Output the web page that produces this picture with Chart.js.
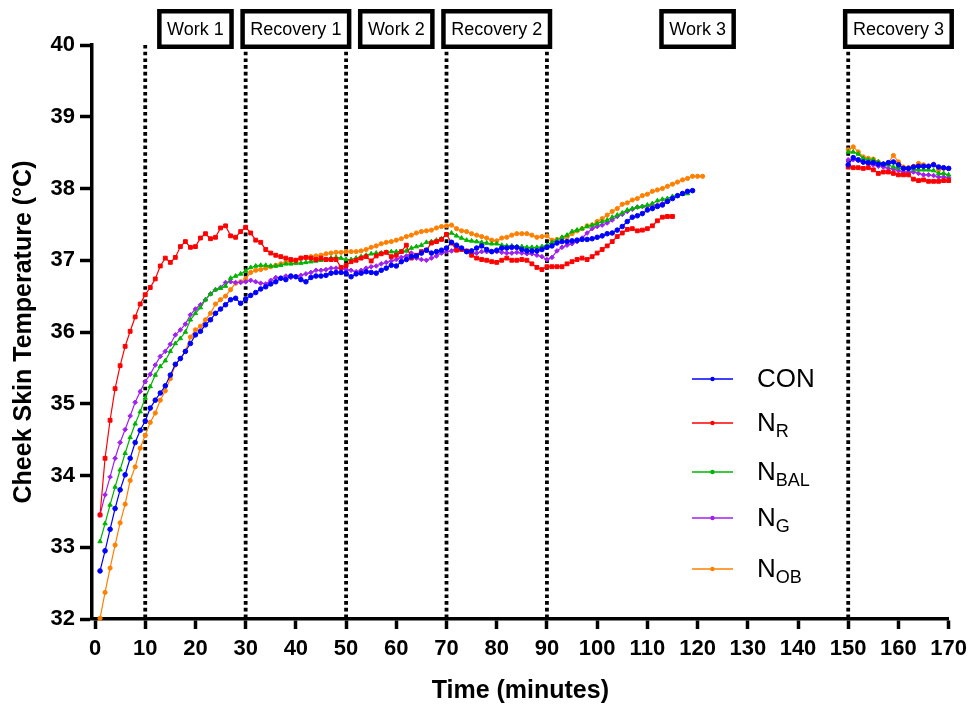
<!DOCTYPE html>
<html>
<head>
<meta charset="utf-8">
<script src="https://cdn.jsdelivr.net/npm/chart.js@4.4.0/dist/chart.umd.min.js"></script>
<style>
	html, body { margin: 0; padding: 0; background: #fff; }
</style>
</head>
<body>
<canvas id="grafico_temp" width="974" height="707"></canvas>
<script>
// minutes of the first block and of the last block
var minutos_1 = [1,2,3,4,5,6,7,8,9,10,11,12,13,14,15,16,17,18,19,20,21,22,23,24,25,26,27,28,29,30,
	31,32,33,34,35,36,37,38,39,40,41,42,43,44,45,46,47,48,49,50,51,52,53,54,55,56,57,58,59,60,
	61,62,63,64,65,66,67,68,69,70,71,72,73,74,75,76,77,78,79,80,81,82,83,84,85,86,87,88,89,90,
	91,92,93,94,95,96,97,98,99,100,101,102,103,104,105,106,107,108,109,110,111,112,113,114,115,116,117,118,119,120,121];
var minutos_2 = [150,151,152,153,154,155,156,157,158,159,160,161,162,163,164,165,166,167,168,169,170];

var con_1 = [32.67,32.95,33.25,33.54,33.80,34.01,34.24,34.46,34.63,34.76,34.94,35.05,35.15,35.25,35.40,35.55,35.63,35.73,35.84,35.96,
	36.01,36.10,36.17,36.26,36.32,36.38,36.45,36.47,36.40,36.46,36.51,36.55,36.60,36.63,36.67,36.70,36.75,36.73,36.78,36.77,
	36.73,36.70,36.76,36.78,36.78,36.79,36.82,36.83,36.83,36.82,36.77,36.81,36.82,36.84,36.83,36.82,36.86,36.89,36.93,36.92,
	36.98,37.01,37.05,37.06,37.10,37.14,37.10,37.12,37.14,37.17,37.25,37.21,37.17,37.12,37.13,37.17,37.20,37.15,37.12,37.14,
	37.17,37.17,37.18,37.18,37.15,37.13,37.13,37.13,37.15,37.18,37.20,37.24,37.26,37.26,37.27,37.28,37.29,37.29,37.30,37.32,
	37.34,37.37,37.38,37.42,37.47,37.54,37.60,37.62,37.65,37.70,37.72,37.75,37.77,37.82,37.86,37.90,37.93,37.96,37.97];
var con_2 = [38.33,38.43,38.40,38.37,38.36,38.36,38.34,38.34,38.36,38.37,38.33,38.28,38.28,38.30,38.31,38.31,38.31,38.33,38.30,38.29,38.28];

var nr_1 = [33.45,34.24,34.77,35.21,35.53,35.80,36.01,36.21,36.39,36.52,36.62,36.74,36.92,37.03,36.97,37.04,37.19,37.26,37.18,37.19,
	37.31,37.37,37.30,37.32,37.45,37.48,37.34,37.32,37.40,37.46,37.38,37.28,37.25,37.15,37.10,37.07,37.05,37.03,37.01,37.00,
	37.03,37.04,37.03,37.01,37.03,37.01,37.01,37.01,36.90,36.93,36.98,37.00,37.03,37.05,36.99,37.06,37.09,37.11,37.05,37.07,
	37.12,37.21,37.03,37.07,37.12,37.14,37.24,37.26,37.29,37.36,37.24,37.14,37.15,37.13,37.07,37.03,37.01,37.00,36.98,36.97,
	37.00,37.03,37.00,37.00,37.01,37.00,36.95,36.90,36.87,36.91,36.91,36.91,36.91,36.95,36.98,37.01,37.03,37.01,37.05,37.10,
	37.15,37.20,37.26,37.33,37.38,37.43,37.44,37.41,37.42,37.44,37.48,37.55,37.60,37.61,37.61];
var nr_2 = [38.30,38.29,38.29,38.28,38.29,38.26,38.21,38.23,38.23,38.21,38.19,38.19,38.19,38.13,38.11,38.12,38.10,38.10,38.10,38.11,38.11];

var nbal_1 = [33.08,33.33,33.59,33.84,34.08,34.31,34.53,34.72,34.89,35.08,35.24,35.40,35.52,35.60,35.73,35.84,35.91,36.00,36.17,36.26,
	36.34,36.45,36.53,36.59,36.61,36.64,36.75,36.78,36.81,36.85,36.90,36.92,36.93,36.93,36.92,36.92,36.93,36.95,36.95,36.96,
	36.96,36.97,36.98,36.99,37.00,37.01,37.03,37.04,37.03,37.01,37.01,37.03,37.05,37.07,37.09,37.10,37.10,37.11,37.12,37.12,
	37.12,37.13,37.17,37.19,37.21,37.25,37.26,37.28,37.30,37.36,37.38,37.34,37.31,37.28,37.27,37.26,37.25,37.24,37.23,37.23,
	37.21,37.20,37.20,37.19,37.19,37.18,37.18,37.18,37.19,37.21,37.25,37.28,37.32,37.35,37.40,37.42,37.44,37.47,37.49,37.51,
	37.54,37.56,37.60,37.63,37.66,37.70,37.72,37.74,37.75,37.77,37.79,37.83,37.85,37.86,37.89,37.90,37.92,37.93];
var nbal_2 = [38.51,38.51,38.48,38.42,38.40,38.40,38.37,38.34,38.33,38.30,38.29,38.28,38.28,38.27,38.26,38.26,38.26,38.25,38.21,38.21,38.19];

var ng_1 = [33.45,33.73,33.98,34.24,34.46,34.64,34.83,35.02,35.17,35.31,35.41,35.54,35.66,35.73,35.83,35.96,36.03,36.11,36.24,36.32,
	36.38,36.45,36.53,36.59,36.62,36.69,36.70,36.69,36.69,36.70,36.72,36.70,36.68,36.67,36.72,36.76,36.75,36.78,36.76,36.77,
	36.79,36.81,36.83,36.86,36.86,36.87,36.89,36.89,36.89,36.87,36.86,36.84,36.86,36.89,36.91,36.92,36.95,36.97,36.99,37.01,
	37.04,37.06,37.10,37.03,37.01,37.00,37.03,37.06,37.10,37.12,37.13,37.18,37.15,37.12,37.09,37.10,37.12,37.12,37.12,37.12,
	37.11,37.10,37.10,37.11,37.10,37.09,37.09,37.07,37.05,37.01,37.04,37.13,37.18,37.21,37.23,37.26,37.31,37.38,37.44,37.47,
	37.49,37.52,37.56,37.61,37.64,37.68,37.71,37.74,37.75,37.75,37.76,37.77,37.79,37.82];
var ng_2 = [38.40,38.40,38.39,38.36,38.34,38.33,38.31,38.30,38.28,38.27,38.25,38.23,38.23,38.23,38.21,38.19,38.19,38.18,38.16,38.16,38.15];

var nob_1 = [32.01,32.37,32.71,33.03,33.34,33.60,33.93,34.12,34.38,34.56,34.74,34.87,35.05,35.18,35.35,35.54,35.63,35.73,35.93,36.03,
	36.08,36.17,36.26,36.39,36.45,36.50,36.59,36.68,36.70,36.74,36.83,36.86,36.87,36.89,36.91,36.93,36.95,36.97,36.98,37.00,
	37.03,37.04,37.05,37.06,37.07,37.09,37.10,37.11,37.11,37.12,37.12,37.12,37.13,37.15,37.18,37.20,37.23,37.25,37.26,37.28,
	37.30,37.33,37.35,37.38,37.40,37.41,37.42,37.45,37.47,37.48,37.49,37.44,37.41,37.40,37.37,37.35,37.33,37.31,37.28,37.27,
	37.31,37.32,37.35,37.37,37.37,37.37,37.35,37.32,37.33,37.34,37.28,37.29,37.31,37.32,37.37,37.41,37.44,37.48,37.49,37.54,
	37.58,37.63,37.68,37.72,37.78,37.80,37.84,37.86,37.90,37.92,37.96,37.98,38.00,38.03,38.06,38.09,38.12,38.14,38.17,38.17,38.17];
var nob_2 = [38.54,38.58,38.51,38.44,38.42,38.41,38.37,38.33,38.36,38.46,38.37,38.30,38.29,38.31,38.35,38.33,38.31,38.34,38.26,38.28,38.28];

var ticks_x = [0,10,20,30,40,50,60,70,80,90,100,110,120,130,140,150,160,170];
var ticks_y = [32,33,34,35,36,37,38,39,40];

// phase limits (dotted lines) and the boxes on top
var linhas_fase = [10, 30, 50, 70, 90, 150];
var nomes_fase = ["Work 1", "Recovery 1", "Work 2", "Recovery 2", "Work 3", "Recovery 3"];
var centros_fase = [20, 40, 60, 80, 120, 160];

var fonte = "'Liberation Sans', Arial, sans-serif";

function montar_pontos(valores_1, valores_2) {
	var pontos = valores_1.map(function (v, i) {
		return { x: minutos_1[i], y: v };
	});
	pontos.push({ x: 135, y: null });
	valores_2.forEach(function (v, i) {
		pontos.push({ x: minutos_2[i], y: v });
	});
	return pontos;
}

var series = [
	{ nome: "CON", sub: "", cor: "#0000ff", forma: "circle", raio: 2.3, d1: con_1, d2: con_2 },
	{ nome: "N", sub: "R", cor: "#ff0000", forma: "rect", raio: 2.7, d1: nr_1, d2: nr_2 },
	{ nome: "N", sub: "BAL", cor: "#00b400", forma: "triangle", raio: 2.5, d1: nbal_1, d2: nbal_2 },
	{ nome: "N", sub: "G", cor: "#a020f0", forma: "rectRot", raio: 2.3, d1: ng_1, d2: ng_2 },
	{ nome: "N", sub: "OB", cor: "#ff8000", forma: "circle", raio: 2.1, d1: nob_1, d2: nob_2 }
];

var legenda_y = [379, 423, 472, 518, 569];

// dotted lines before the data, boxes and legend after
var plugin_linhas = {
	id: "linhas_fase",
	beforeDatasetsDraw: function (chart) {
		var ctx = chart.ctx;
		var area = chart.chartArea;
		var sx = chart.scales.x;
		ctx.save();
		ctx.strokeStyle = "#000";
		ctx.lineWidth = 3.8;
		ctx.setLineDash([3.6, 3.1]);
		linhas_fase.forEach(function (m) {
			var px = sx.getPixelForValue(m);
			ctx.beginPath();
			ctx.moveTo(px, area.top);
			ctx.lineTo(px, area.bottom);
			ctx.stroke();
		});
		ctx.restore();
	},
	afterDraw: function (chart) {
		var ctx = chart.ctx;
		var sx = chart.scales.x;
		ctx.save();
		ctx.font = "18px " + fonte;
		ctx.textAlign = "center";
		ctx.textBaseline = "middle";
		nomes_fase.forEach(function (nome, i) {
			var cx = sx.getPixelForValue(centros_fase[i]);
			var w = ctx.measureText(nome).width + 20;
			var x0 = cx - w / 2;
			ctx.fillStyle = "#fff";
			ctx.fillRect(x0, 9, w, 40);
			ctx.lineWidth = 4.5;
			ctx.strokeStyle = "#000";
			ctx.strokeRect(x0 + 2.25, 9 + 2.25, w - 4.5, 40 - 4.5);
			ctx.fillStyle = "#000";
			ctx.fillText(nome, cx, 30);
		});
		ctx.textAlign = "left";
		ctx.textBaseline = "alphabetic";
		series.forEach(function (s, i) {
			var y = legenda_y[i];
			ctx.strokeStyle = s.cor;
			ctx.lineWidth = 1.6;
			ctx.beginPath();
			ctx.moveTo(692, y);
			ctx.lineTo(733, y);
			ctx.stroke();
			ctx.fillStyle = s.cor;
			ctx.beginPath();
			ctx.arc(712.5, y, 2.2, 0, Math.PI * 2);
			ctx.fill();
			ctx.fillStyle = "#000";
			ctx.font = "26px " + fonte;
			ctx.fillText(s.nome, 757, y + 8);
			if (s.sub) {
				var wn = ctx.measureText(s.nome).width;
				ctx.font = "18px " + fonte;
				ctx.fillText(s.sub, 757 + wn, y + 14);
			}
		});
		ctx.restore();
	}
};

var fonte_ticks = { family: fonte, size: 22, weight: "bold" };
var fonte_titulo = { family: fonte, size: 25, weight: "bold" };

new Chart(document.getElementById("grafico_temp"), {
	type: "line",
	data: {
		datasets: series.map(function (s) {
			return {
				label: s.nome + s.sub,
				data: montar_pontos(s.d1, s.d2),
				borderColor: s.cor,
				backgroundColor: s.cor,
				borderWidth: 1.2,
				pointStyle: s.forma,
				pointRadius: s.raio,
				pointBorderWidth: 1,
				pointBackgroundColor: s.cor,
				pointBorderColor: s.cor,
				tension: 0,
				spanGaps: false,
				clip: 6
			};
		})
	},
	options: {
		responsive: false,
		animation: false,
		layout: { padding: { top: 45, right: 25, left: 0, bottom: 0 } },
		plugins: {
			legend: { display: false },
			tooltip: { enabled: false }
		},
		scales: {
			x: {
				type: "linear",
				min: -0.6,
				max: 170,
				afterBuildTicks: function (s) {
					s.ticks = ticks_x.map(function (v) { return { value: v }; });
				},
				afterFit: function (s) { s.height = 88; },
				grid: { drawOnChartArea: false, drawTicks: true, tickLength: 10, tickWidth: 3.5, tickColor: "#000" },
				border: { display: true, color: "#000", width: 3.5 },
				ticks: { color: "#000", font: fonte_ticks, padding: 7, maxRotation: 0, autoSkip: false },
				title: { display: true, text: "Time (minutes)", color: "#000", font: fonte_titulo, padding: { top: 0, bottom: 1 } }
			},
			y: {
				min: 32,
				max: 40,
				afterBuildTicks: function (s) {
					s.ticks = ticks_y.map(function (v) { return { value: v }; });
				},
				afterFit: function (s) { s.width = 92; },
				grid: { drawOnChartArea: false, drawTicks: true, tickLength: 12, tickWidth: 3.5, tickColor: "#000" },
				border: { display: true, color: "#000", width: 3.5 },
				ticks: { color: "#000", font: fonte_ticks, padding: 5 },
				title: { display: true, text: "Cheek Skin Temperature (°C)", color: "#000", font: fonte_titulo, padding: { top: 9, bottom: 0 } }
			}
		}
	},
	plugins: [plugin_linhas]
});
</script>
</body>
</html>
